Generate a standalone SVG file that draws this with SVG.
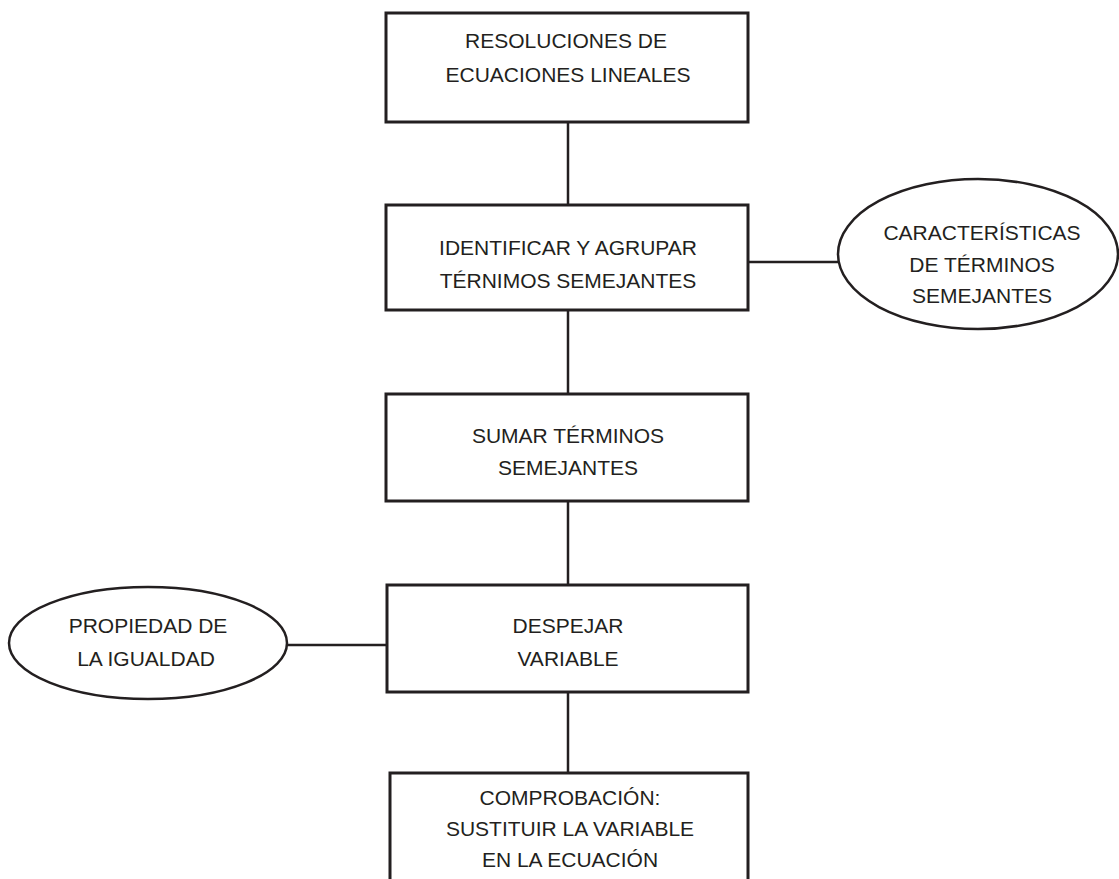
<svg xmlns="http://www.w3.org/2000/svg" width="1119" height="879" viewBox="0 0 1119 879">
<style>
.box{fill:#fff;stroke:#231f20;stroke-width:3}
.ell{fill:#fff;stroke:#231f20;stroke-width:2.5}
.con{stroke:#231f20;stroke-width:2.5;fill:none}
text{font-family:"Liberation Sans",Arial,sans-serif;font-size:21px;fill:#231f20;text-anchor:middle}
</style>
<rect width="1119" height="879" fill="#fff"/>
<g id="connectors">
<line class="con" x1="568" y1="122" x2="568" y2="205"/>
<line class="con" x1="568" y1="310" x2="568" y2="393"/>
<line class="con" x1="568" y1="500" x2="568" y2="585"/>
<line class="con" x1="568" y1="692" x2="568" y2="773"/>
<line class="con" x1="748" y1="262" x2="838" y2="262"/>
<line class="con" x1="287" y1="645" x2="387" y2="645"/>
</g>
<g id="n1">
<rect class="box" x="386" y="13" width="362" height="109"/>
<text x="566" y="48">RESOLUCIONES DE</text>
<text x="568" y="82">ECUACIONES LINEALES</text>
</g>
<g id="n2">
<rect class="box" x="386" y="205" width="362" height="105"/>
<text x="568" y="255">IDENTIFICAR Y AGRUPAR</text>
<text x="568" y="288">TÉRNIMOS SEMEJANTES</text>
</g>
<g id="n3">
<ellipse class="ell" cx="978" cy="254" rx="140" ry="75"/>
<text x="982" y="240">CARACTERÍSTICAS</text>
<text x="982" y="272">DE TÉRMINOS</text>
<text x="982" y="303">SEMEJANTES</text>
</g>
<g id="n4">
<rect class="box" x="386" y="394" width="362" height="107"/>
<text x="568" y="443">SUMAR TÉRMINOS</text>
<text x="568" y="475">SEMEJANTES</text>
</g>
<g id="n5">
<rect class="box" x="387" y="585" width="361" height="107"/>
<text x="568" y="633">DESPEJAR</text>
<text x="568" y="666">VARIABLE</text>
</g>
<g id="n6">
<ellipse class="ell" cx="148" cy="643" rx="139" ry="56"/>
<text x="148" y="633">PROPIEDAD DE</text>
<text x="146" y="666">LA IGUALDAD</text>
</g>
<g id="n7">
<rect class="box" x="390" y="773" width="358" height="120"/>
<text x="570" y="805">COMPROBACIÓN:</text>
<text x="570" y="836">SUSTITUIR LA VARIABLE</text>
<text x="570" y="867">EN LA ECUACIÓN</text>
</g>
</svg>
